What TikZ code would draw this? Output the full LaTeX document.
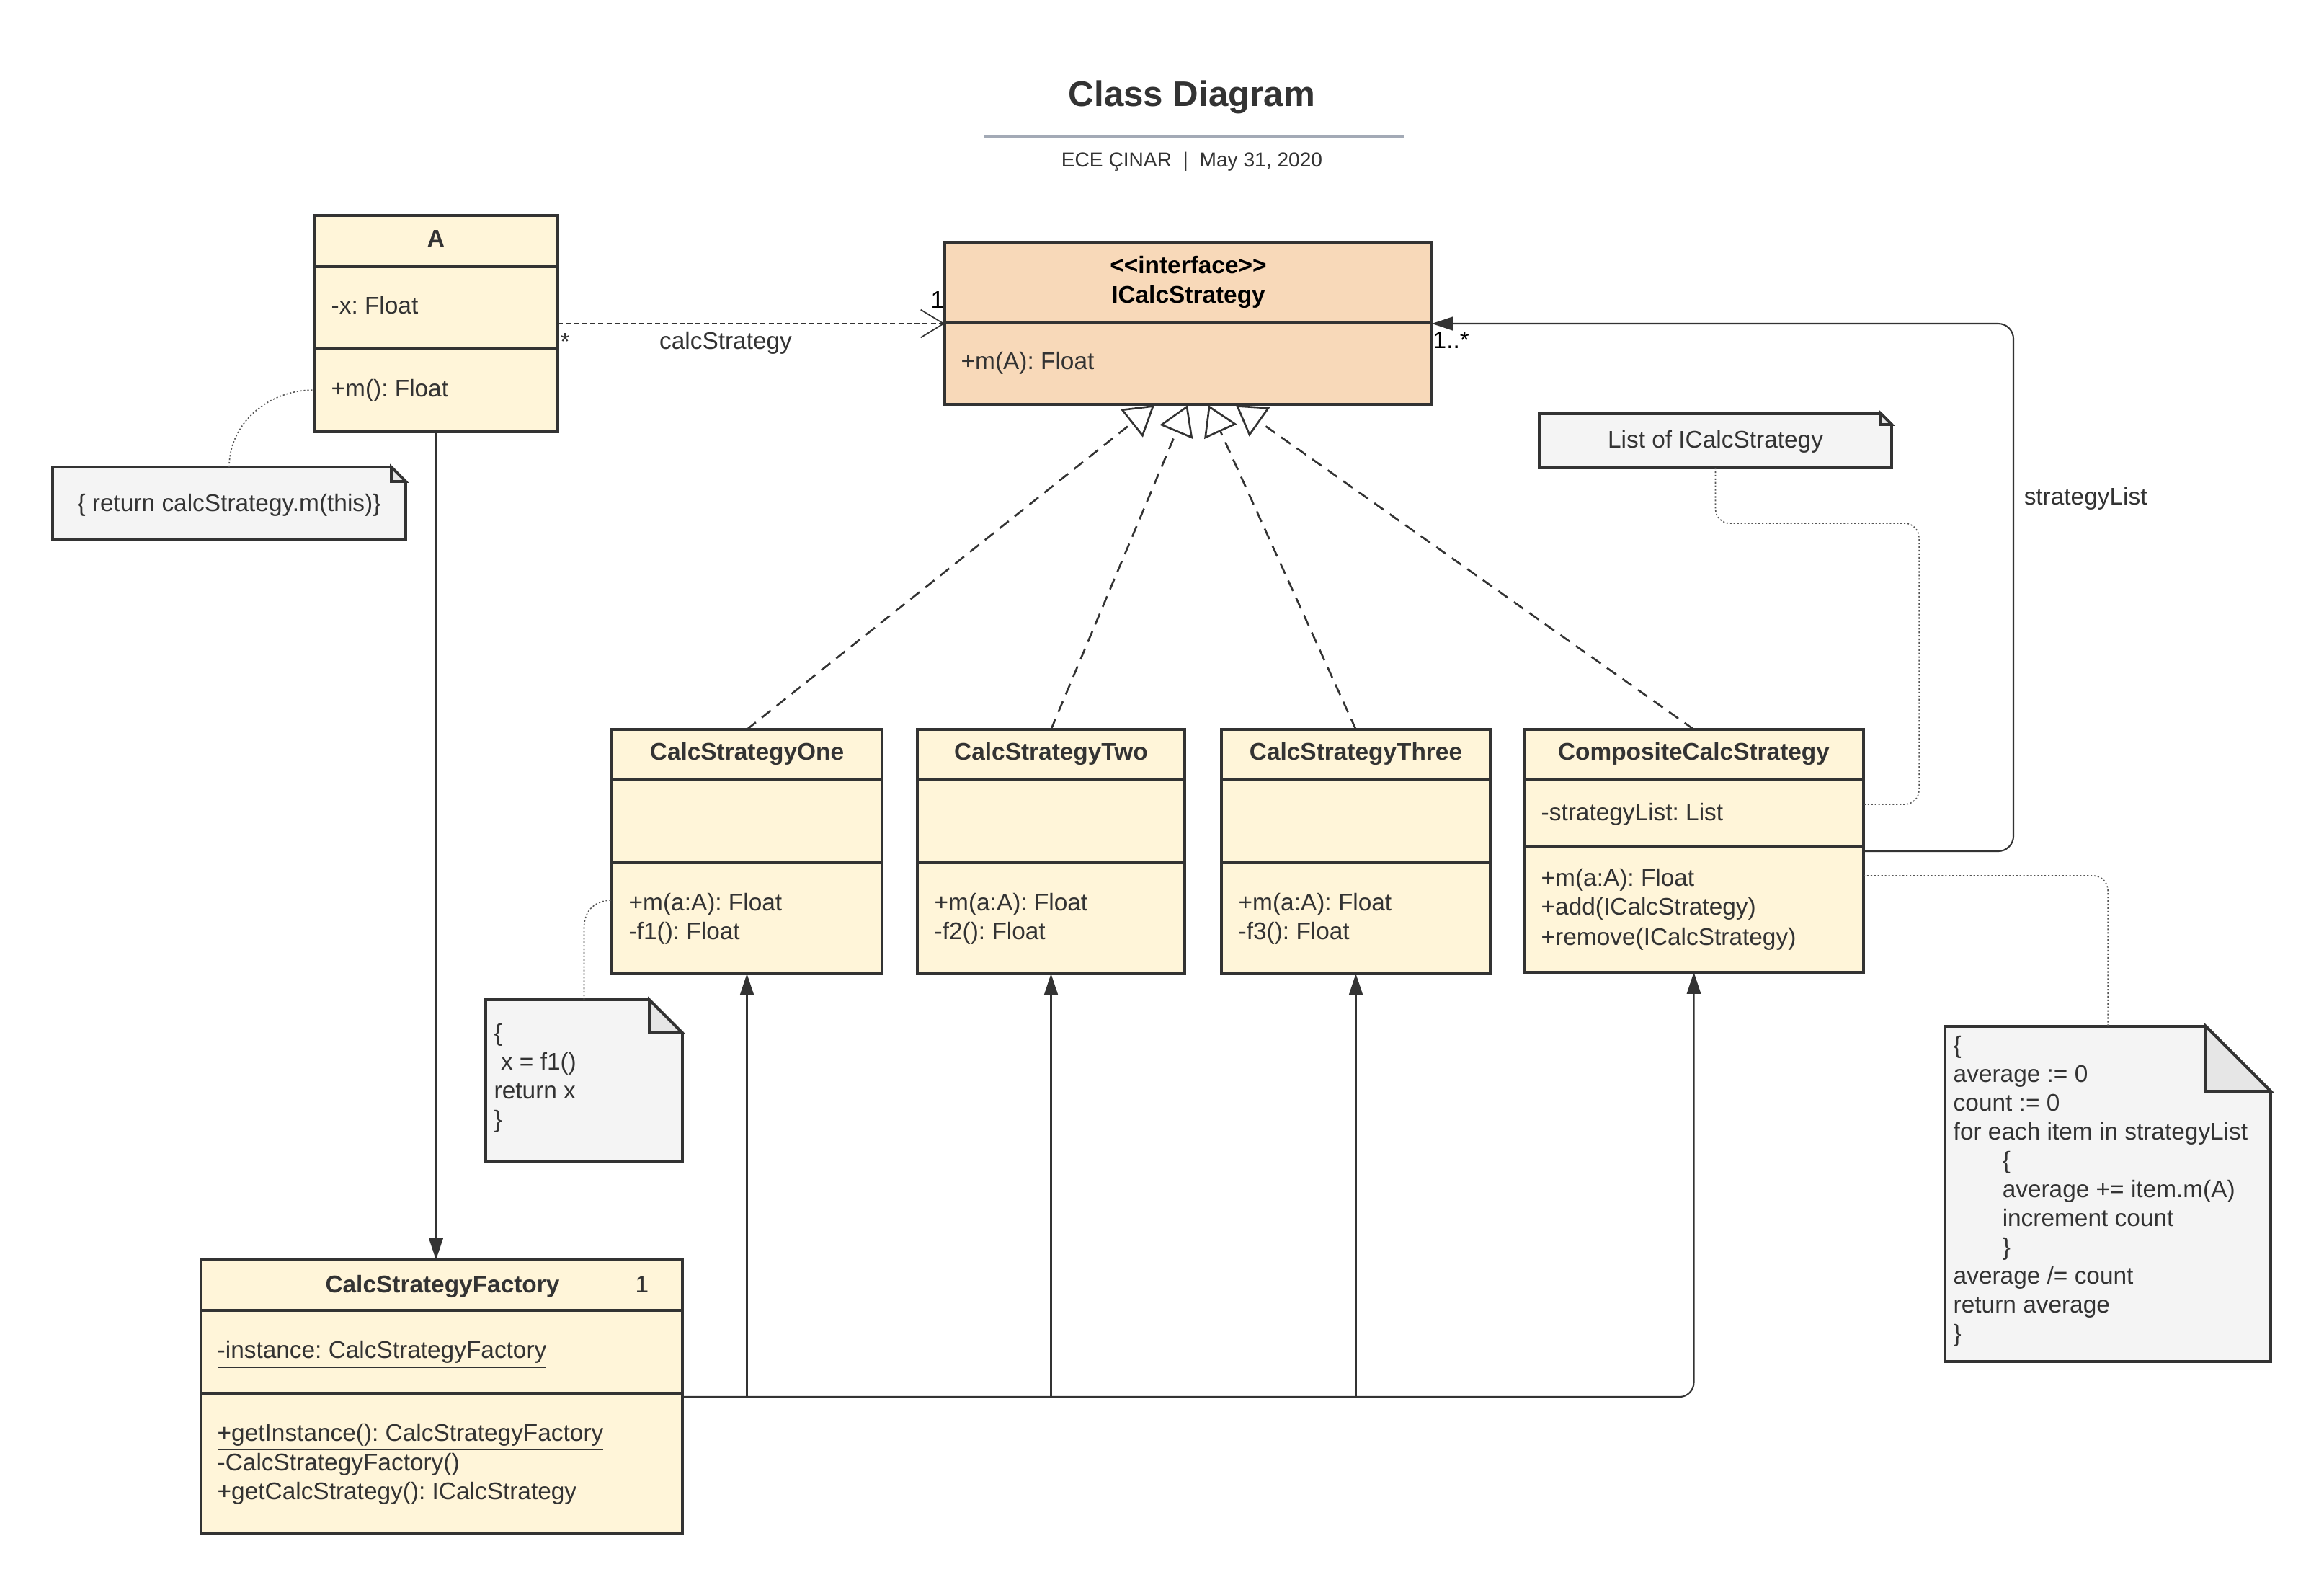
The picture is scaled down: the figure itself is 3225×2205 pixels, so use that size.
\documentclass[tikz,border=0pt]{standalone}
\usepackage{fontspec}
\setmainfont{Liberation Sans}
\usetikzlibrary{arrows.meta,fit}
\frenchspacing
\definecolor{bordc}{HTML}{333333}
\definecolor{txtc}{HTML}{333333}
\definecolor{cream}{HTML}{FFF5D9}
\definecolor{peach}{HTML}{F8D9B9}
\definecolor{notef}{HTML}{F4F4F4}
\definecolor{foldf}{HTML}{E6E6E6}
\definecolor{rulec}{HTML}{A3AAB6}
\definecolor{dotc}{HTML}{555555}
\newcommand{\bodyfont}{\fontsize{9.5}{11.6}\selectfont\frenchspacing}
\newcommand{\umlbox}[6]{%
  \node[fit={(#2,#3) (#4,#5)}, inner sep=0pt, outer sep=0pt, draw=bordc, line width=1.1pt, fill=#6] (#1) {};}
\newcommand{\umlnote}[6]{%
  \filldraw[draw=bordc, fill=notef, line width=1.1pt] (#2,#3) -- ({#4-#6},#3) -- (#4,{#3+#6}) -- (#4,#5) -- (#2,#5) -- cycle;
  \filldraw[draw=bordc, fill=foldf, line width=1.1pt] ({#4-#6},#3) -- ({#4-#6},{#3+#6}) -- (#4,{#3+#6}) -- cycle;
  \node[fit={(#2,#3) (#4,#5)}, inner sep=0pt, outer sep=0pt] (#1) {};}
\tikzset{
  txt/.style={font=\bodyfont, text=txtc, inner sep=0pt, text height=6.8pt, text depth=0pt},
  lt/.style={txt, anchor=west},
  ttl/.style={txt, font=\bodyfont\bfseries},
  divider/.style={draw=bordc, line width=1.1pt},
  conn/.style={draw=bordc, line width=0.6pt},
  fillarrow/.style={conn, -{Triangle[length=8.5pt,width=5.5pt]}},
  realize/.style={draw=bordc, line width=0.75pt, dash pattern=on 4.5pt off 3pt, -{Triangle[open,length=11.5pt,width=14pt]}},
  depend/.style={draw=bordc, line width=0.5pt, dash pattern=on 2pt off 1.2pt, -{Straight Barb[length=9pt,width=11pt]}},
  notelink/.style={draw=dotc, line width=0.45pt, dash pattern=on 0.6pt off 0.8pt},
}
\begin{document}
\begin{tikzpicture}[x=0.01cm,y=-0.01cm]
\useasboundingbox (0,0) rectangle (3225,2205);
\fill[white] (0,0) rectangle (3225,2205);

% header
\node[txt, font=\fontsize{14}{16}\selectfont\bfseries, text height=10pt] (title) at (1654,130) {Class Diagram};
\draw[rulec, line width=1pt] (1366,189) -- (1948,189);
\node[txt, font=\fontsize{8}{10}\selectfont, text height=5.7pt] (sub) at (1654,221) {ECE ÇINAR \ | \ May 31, 2020};

% class boxes
\umlbox{a}{436}{299}{774}{599}{cream}
\draw[divider] (436,370) -- (774,370);
\draw[divider] (436,484) -- (774,484);

\umlbox{icalc}{1311}{337}{1987}{561}{peach}
\draw[divider] (1311,448) -- (1987,448);

\umlbox{fac}{279}{1748}{947}{2128}{cream}
\draw[divider] (279,1818) -- (947,1818);
\draw[divider] (279,1933) -- (947,1933);

\umlbox{one}{849}{1012}{1224}{1351}{cream}
\draw[divider] (849,1082) -- (1224,1082);
\draw[divider] (849,1197) -- (1224,1197);

\umlbox{two}{1273}{1012}{1644}{1351}{cream}
\draw[divider] (1273,1082) -- (1644,1082);
\draw[divider] (1273,1197) -- (1644,1197);

\umlbox{three}{1695}{1012}{2068}{1351}{cream}
\draw[divider] (1695,1082) -- (2068,1082);
\draw[divider] (1695,1197) -- (2068,1197);

\umlbox{comp}{2115}{1012}{2586}{1349}{cream}
\draw[divider] (2115,1082) -- (2586,1082);
\draw[divider] (2115,1175) -- (2586,1175);

% notes
\umlnote{n1}{73}{648}{563}{748}{20}
\umlnote{n2}{674}{1387}{947}{1612}{46}
\umlnote{n3}{2136}{574}{2625}{649}{15}
\umlnote{n4}{2699}{1424}{3151}{1889}{90}

% helper coordinates
\coordinate (t1) at (1602,562);
\coordinate (t2) at (1648,562);
\coordinate (t3) at (1677,562);
\coordinate (t4) at (1715,562);
\coordinate (hl) at (0,1938);
\coordinate (sl) at (0,1181);
\coordinate (sr) at (2794,0);
\coordinate (am) at (0,541);
\coordinate (om) at (0,1249);
\coordinate (lm) at (0,1116);
\coordinate (cm) at (0,1215);

% connectors
\draw[depend] (a.east) -- (icalc.west);
\draw[fillarrow] (a.south) -- (a.south |- fac.north);
\draw[realize] (one.north) -- (t1);
\draw[realize] (two.north) -- (t2);
\draw[realize] (three.north) -- (t3);
\draw[realize] (comp.north) -- (t4);
\draw[fillarrow, rounded corners=5.7pt] (fac.east |- hl) -- (comp.south |- hl) -- (comp.south);
\draw[fillarrow] (one.south |- hl) -- (one.south);
\draw[fillarrow] (two.south |- hl) -- (two.south);
\draw[fillarrow] (three.south |- hl) -- (three.south);
\draw[fillarrow, rounded corners=6pt] (comp.east |- sl) -- (sr |- sl) -- (sr |- icalc.east) -- (icalc.east);

\draw[notelink] (n1.north) .. controls (318,588) and (371,541) .. (a.west |- am);
\draw[notelink] (n2.north) -- (810.5,1287) .. controls (810.5,1263) and (826,1249) .. (one.west |- om);
\draw[notelink, rounded corners=5.7pt] (n3.south) -- (2380.5,726) -- (2663,726) -- (2663,1116) -- (comp.east |- lm);
\draw[notelink, rounded corners=5.7pt] (comp.east |- cm) -- (2925,1215) -- (n4.north);

% connector labels
\node[txt, text=black] (m1) at (1301,416) {1};
\node[txt] (m2) at (784,474) {*};
\node[txt] (lbl1) at (1007,473) {calcStrategy};
\node[lt, text=black] (m3) at (1988,472) {1..*};
\node[lt] (lbl2) at (2808,689) {strategyList};

% A
\node[ttl] (atl) at (605,331) {A};
\node[lt] (a1) at (459,424) {-x: Float};
\node[lt] (a2) at (459,539) {+m(): Float};

% ICalcStrategy
\node[ttl, text=black] (itl1) at (1649,368) {{<}{<}interface{>}{>}};
\node[ttl, text=black] (itl2) at (1649,409) {ICalcStrategy};
\node[lt] (i1) at (1333,501) {+m(A): Float};

% Factory
\node[ttl] (ftl) at (614,1782) {CalcStrategyFactory};
\node[txt] (fm) at (891,1782) {1};
\node[lt] (f1) at (301,1873) {\underline{-instance: CalcStrategyFactory}};
\node[lt] (f2) at (301,1987) {\underline{+getInstance(): CalcStrategyFactory}};
\node[lt] (f3) at (301,2028) {-CalcStrategyFactory()};
\node[lt] (f4) at (301,2068) {+getCalcStrategy(): ICalcStrategy};

% strategies
\node[ttl] (otl) at (1036.5,1043) {CalcStrategyOne};
\node[lt] (o1) at (872,1252) {+m(a:A): Float};
\node[lt] (o2) at (872,1292) {-f1(): Float};

\node[ttl] (wtl) at (1458.5,1043) {CalcStrategyTwo};
\node[lt] (w1) at (1296,1252) {+m(a:A): Float};
\node[lt] (w2) at (1296,1292) {-f2(): Float};

\node[ttl] (htl) at (1881.5,1043) {CalcStrategyThree};
\node[lt] (h1) at (1718,1252) {+m(a:A): Float};
\node[lt] (h2) at (1718,1292) {-f3(): Float};

\node[ttl] (ctl) at (2350.5,1043) {CompositeCalcStrategy};
\node[lt] (c0) at (2138,1127) {-strategyList: List};
\node[lt] (c1) at (2138,1218) {+m(a:A): Float};
\node[lt] (c2) at (2138,1258) {+add(ICalcStrategy)};
\node[lt] (c3) at (2138,1300) {+remove(ICalcStrategy)};

% note texts
\node[txt] (n1t) at (318,698) {\{ return calcStrategy.m(this)\}};
\node[txt] (n3t) at (2380.5,610) {List of ICalcStrategy};

\node[lt] (n2a) at (685,1433) {\{};
\node[lt] (n2b) at (685,1473) {\ x = f1()};
\node[lt] (n2c) at (685,1513) {return x};
\node[lt] (n2d) at (685,1553) {\}};

\node[lt] (n4a) at (2710,1450) {\{};
\node[lt] (n4b) at (2710,1490) {average := 0};
\node[lt] (n4c) at (2710,1530) {count := 0};
\node[lt] (n4d) at (2710,1570) {for each item in strategyList};
\node[lt] (n4e) at (2778,1610) {\{};
\node[lt] (n4f) at (2778,1650) {average += item.m(A)};
\node[lt] (n4g) at (2778,1690) {increment count};
\node[lt] (n4h) at (2778,1730) {\}};
\node[lt] (n4i) at (2710,1770) {average /= count};
\node[lt] (n4j) at (2710,1810) {return average};
\node[lt] (n4k) at (2710,1850) {\}};
\end{tikzpicture}
\end{document}
